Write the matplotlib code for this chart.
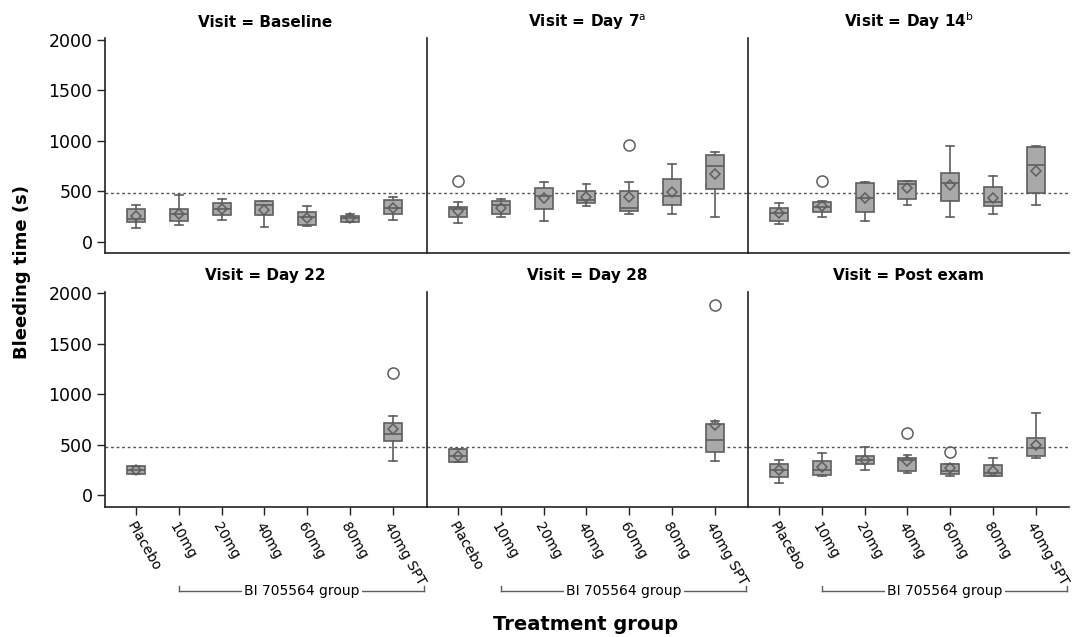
import matplotlib
matplotlib.use("Agg")
import matplotlib.pyplot as plt
from matplotlib.transforms import blended_transform_factory

groups = ["Placebo", "10mg", "20mg", "40mg", "60mg", "80mg", "40mg SPT"]
visits = ["Baseline", "Day 7$^{\\rm a}$", "Day 14$^{\\rm b}$",
          "Day 22", "Day 28", "Post exam"]
reference_line = 480

# each box: (whisker low, q1, median, q3, whisker high, mean)
baseline = [
    (142, 198, 230, 326, 365, 260),
    (171, 211, 273, 329, 464, 277),
    (214, 270, 323, 385, 428, 323),
    (148, 270, 365, 402, 402, 319),
    (158, 171, 247, 300, 356, 240),
    (198, 201, 234, 260, 277, 234),
    (217, 280, 336, 412, 448, 339),
]
baseline_fliers = [[], [], [], [], [], [], []]

day7 = [
    (188, 250, 323, 346, 395, 310),
    (244, 273, 362, 402, 428, 336),
    (207, 329, 454, 537, 596, 435),
    (359, 382, 412, 504, 570, 445),
    (273, 306, 339, 504, 596, 441),
    (273, 369, 458, 622, 774, 491),
    (244, 524, 751, 863, 892, 675),
]
day7_fliers = [[599], [], [], [], [955], [], []]

day14 = [
    (181, 204, 283, 333, 385, 283),
    (244, 296, 346, 392, 408, 359),
    (207, 296, 435, 580, 596, 435),
    (366, 428, 570, 603, 603, 537),
    (244, 405, 586, 682, 952, 560),
    (273, 359, 392, 540, 655, 438),
    (362, 481, 764, 935, 952, 705),
]
day14_fliers = [[], [603], [], [], [], [], []]

day22 = [
    (211, 211, 251, 287, 287, 251),
    None, None, None, None, None,
    (340, 537, 603, 715, 781, 656),
]
day22_fliers = [[], [], [], [], [], [], [1207]]

day28 = [
    (333, 333, 392, 455, 455, 392),
    None, None, None, None, None,
    (343, 429, 547, 706, 732, 692),
]
day28_fliers = [[], [], [], [], [], [], [1883]]

post_exam = [
    (122, 181, 247, 313, 353, 247),
    (191, 201, 251, 343, 415, 280),
    (251, 306, 353, 386, 481, 349),
    (224, 244, 346, 373, 399, 340),
    (191, 214, 241, 307, 313, 274),
    (188, 188, 221, 300, 366, 244),
    (369, 389, 468, 564, 818, 501),
]
post_exam_fliers = [[], [], [], [613], [432], [], []]

panel_data = [baseline, day7, day14, day22, day28, post_exam]
panel_fliers = [baseline_fliers, day7_fliers, day14_fliers,
                day22_fliers, day28_fliers, post_exam_fliers]

plt.rcParams["font.family"] = ["DejaVu Sans"]
edge = "#5e5e5e"
spine = "#222222"

fig = plt.figure(figsize=(10.74, 6.37), dpi=100)
W, H = 1074, 637
lefts = [105, 427, 748]
width = 321
tops = [38, 291.5]
height = 215

for i, visit in enumerate(visits):
    row, col = divmod(i, 3)
    ax = fig.add_axes([lefts[col] / W, 1 - (tops[row] + height) / H,
                       width / W, height / H])
    stats, positions = [], []
    for j, box in enumerate(panel_data[i]):
        if box is None:
            continue
        lo, q1, med, q3, hi, mean = box
        stats.append(dict(whislo=lo, q1=q1, med=med, q3=q3, whishi=hi,
                          mean=mean, fliers=panel_fliers[i][j]))
        positions.append(j)
    ax.bxp(stats, positions=positions, widths=0.42, capwidths=0.18,
           patch_artist=True, showmeans=True,
           boxprops=dict(facecolor="#a9a9a9", edgecolor=edge, linewidth=1.2),
           medianprops=dict(color=edge, linewidth=1.2),
           whiskerprops=dict(color=edge, linewidth=1.2),
           capprops=dict(color=edge, linewidth=1.2),
           meanprops=dict(marker="D", markersize=5, markerfacecolor="none",
                          markeredgecolor=edge, markeredgewidth=1.1),
           flierprops=dict(marker="o", markersize=8, markerfacecolor="none",
                           markeredgecolor=edge, markeredgewidth=1.1))
    ax.axhline(reference_line, color="#555555", linestyle=(0, (2, 2)),
               linewidth=1, zorder=0)
    ax.set_xlim(-0.73, 6.78)
    ax.set_ylim(-110, 2015)
    ax.set_title(f"Visit = {visit}", fontsize=11, fontweight="bold", pad=8)
    for s in ["top", "right"]:
        ax.spines[s].set_visible(False)
    for s in ["left", "bottom"]:
        ax.spines[s].set_color(spine)
        ax.spines[s].set_linewidth(1.2)
    ax.set_yticks([0, 500, 1000, 1500, 2000])
    if col == 0:
        ax.tick_params(axis="y", length=6, width=1, color=spine,
                       labelsize=12.5, pad=3)
    else:
        ax.tick_params(axis="y", left=False, labelleft=False)
    ax.set_xticks(range(len(groups)))
    if row == 0:
        ax.tick_params(axis="x", bottom=False, labelbottom=False)
    else:
        ax.tick_params(axis="x", length=6, width=1, color=spine)
        ax.set_xticklabels(groups, rotation=-60, ha="left", va="top",
                           rotation_mode="anchor", fontsize=10)
        # bracket under the active dose groups
        tr = blended_transform_factory(ax.transData, ax.transAxes)
        tr2 = blended_transform_factory(ax.transAxes, ax.transAxes)
        yb, yt = -0.393, -0.37
        ax.plot([1, 1], [yt, yb], color=edge, lw=1, transform=tr, clip_on=False)
        ax.plot([0.995, 0.995], [yt, yb], color=edge, lw=1, transform=tr2,
                clip_on=False)
        x0 = ax.transData.transform((1, 0))[0]
        x1 = ax.transAxes.transform((0.995, 0))[0]
        xm = ax.transAxes.inverted().transform(((x0 + x1) / 2, 0))[0]
        ax.plot([1, 6.74], [yb, yb], color=edge, lw=1, transform=tr,
                clip_on=False)
        ax.text(xm, yb, "BI 705564 group", ha="center", va="center",
                fontsize=10, transform=tr2,
                bbox=dict(facecolor="white", edgecolor="none", pad=1.5))

fig.text(22 / W, 1 - 272 / H, "Bleeding time (s)", rotation=90,
         ha="center", va="center", fontsize=13, fontweight="bold")
fig.text(586 / W, 1 - 624 / H, "Treatment group", ha="center",
         va="center", fontsize=14, fontweight="bold")

fig.savefig("out.png", dpi=100)
